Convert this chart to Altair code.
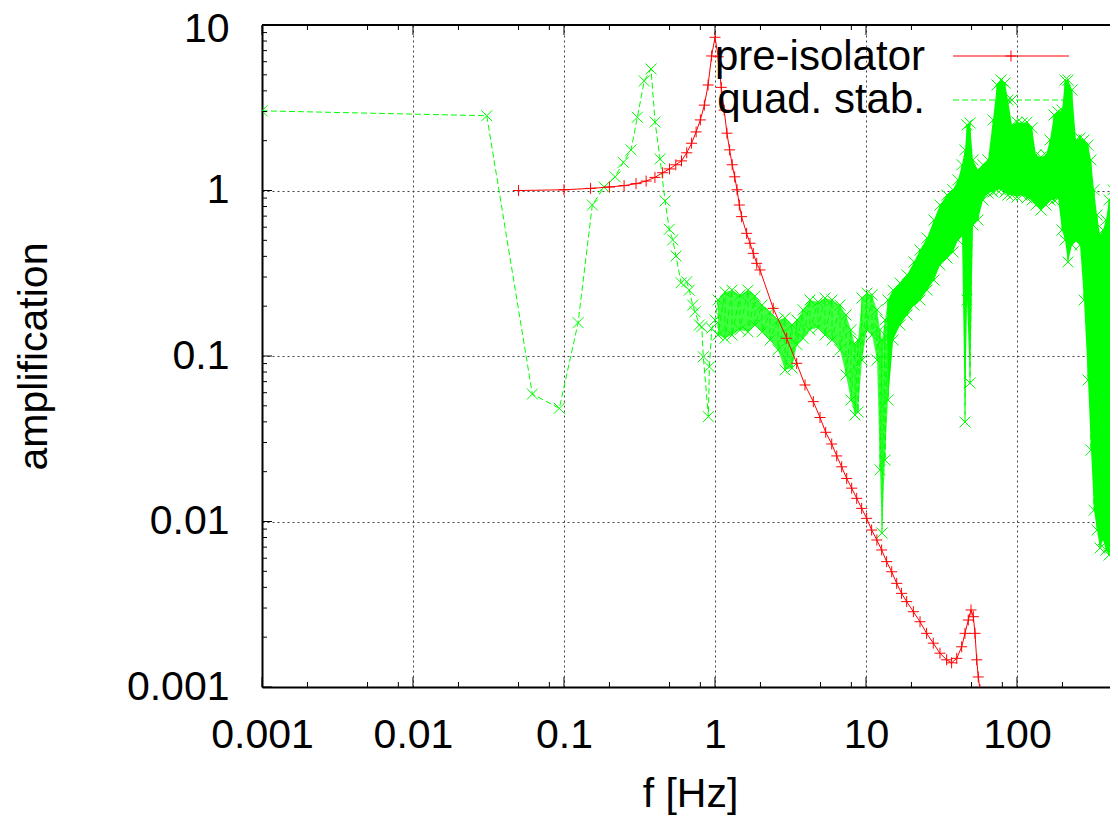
import altair as alt
import pandas as pd

# ---------------- data ----------------
# pre-isolator (red, solid line with + markers)
red_f = [0.05, 0.10, 0.15, 0.20, 0.25, 0.30, 0.35, 0.40, 0.45, 0.50, 0.55, 0.60, 0.65, 0.70, 0.75, 0.80, 0.85, 0.90, 0.95, 1.00,
         1.05, 1.10, 1.15, 1.20, 1.25, 1.30, 1.35, 1.40, 1.45, 1.50, 1.62, 1.705, 1.793, 1.889, 1.986,
         2.43, 2.985, 3.475, 3.945, 4.48, 4.96, 5.41, 5.93, 6.40, 6.90, 7.45, 8.04, 8.68, 9.36, 10.1, 10.9, 11.8, 12.7,
         13.7, 14.8, 15.97, 17.2, 18.6, 20.6, 22.8, 25.2, 27.9, 30.9, 34.2, 36.9, 39.9, 43.0, 45.25, 47.6, 49.6, 51.4,
         52.7, 54.1, 55.4, 56.9, 58.6]
red_a = [1.00, 1.01, 1.03, 1.05, 1.07, 1.10, 1.14, 1.20, 1.28, 1.35, 1.43, 1.51, 1.69, 1.93, 2.26, 2.67, 3.28, 4.34, 6.5, 8.43,
         6.43, 4.20, 3.06, 2.22, 1.76, 1.43, 1.21, 1.01, 0.817, 0.695, 0.551, 0.480, 0.417, 0.363, 0.331,
         0.194, 0.128, 0.0903, 0.0668, 0.053, 0.0425, 0.0346, 0.0294, 0.0249, 0.0214, 0.0182, 0.0159, 0.0138, 0.0120,
         0.01045, 0.00888, 0.00773, 0.00673, 0.00572, 0.00497, 0.00423, 0.00368, 0.00328, 0.00285, 0.00248, 0.00211,
         0.00184, 0.0016, 0.00146, 0.0014, 0.00149, 0.00175, 0.00211, 0.00254, 0.00292, 0.00266, 0.00211, 0.00146,
         0.00115, 0.00096, 0.00078]

# quad. stab. (green, dashed line with x markers) - sparse low-frequency part
green_f = [0.001, 0.0308, 0.0617, 0.0931, 0.124, 0.154, 0.184, 0.218, 0.247, 0.278, 0.306, 0.340, 0.377, 0.401,
           0.433, 0.467, 0.498, 0.525, 0.552, 0.596, 0.650, 0.676, 0.712, 0.738, 0.788, 0.817, 0.837, 0.904,
           0.918, 0.952, 1.0]
green_a = [3.03, 2.83, 0.0589, 0.0483, 0.159, 0.817, 1.05, 1.21, 1.48, 1.76, 2.77, 4.59, 5.42, 2.59,
           1.55, 0.865, 0.583, 0.503, 0.402, 0.277, 0.281, 0.25, 0.203, 0.185, 0.154, 0.150, 0.099, 0.043,
           0.086, 0.147, 0.165]

# quad. stab. - dense noisy part: upper / lower edge of the band
band_f = [1.047, 1.165, 1.296, 1.464, 1.654, 1.840, 2.048, 2.314, 2.614, 2.908,
          3.235, 3.49, 3.826, 4.257, 4.810, 5.35, 5.955, 6.73, 7.37, 7.956,
          8.46, 8.85, 9.41, 10.15, 10.96, 11.83, 12.38, 12.76, 13.36, 13.98,
          15.10, 16.80, 18.69, 20.79, 22.79, 25.35, 28.20, 30.91, 34.39, 37.69,
          40.68, 43.23, 45.25, 46.66, 48.84, 51.12, 55.16, 59.55, 64.27, 69.37,
          73.71, 78.34, 83.27, 87.16, 92.66, 100.0, 107.9, 116.5, 125.7, 133.6,
          144.2, 155.6, 165.4, 175.8, 186.9, 198.7, 208.0, 217.7, 231.3, 245.9,
          261.4, 277.8, 295.3, 309.1, 323.6, 338.8, 354.6, 371.2, 388.6, 406.8,
          432.4]
band_hi = [0.218, 0.244, 0.250, 0.234, 0.250, 0.230, 0.203, 0.184, 0.165, 0.170,
           0.154, 0.165, 0.190, 0.218, 0.212, 0.224, 0.218, 0.203, 0.177, 0.144,
           0.117, 0.125, 0.224, 0.240, 0.234, 0.190, 0.144, 0.125, 0.165, 0.218,
           0.250, 0.276, 0.309, 0.370, 0.437, 0.516, 0.663, 0.817, 0.939, 1.01,
           1.16, 1.43, 1.76, 2.49, 2.56, 1.53, 1.33, 1.43, 1.53, 2.67,
           4.34, 4.65, 4.46, 3.52, 2.49, 2.59, 2.56, 2.59, 2.39, 1.64,
           1.59, 1.64, 2.02, 2.86, 2.98, 3.06, 4.65, 4.65, 4.05, 2.02,
           2.08, 2.02, 1.88, 1.53, 1.01, 0.711, 0.538, 0.577, 0.663, 0.876,
           1.01]
band_lo = [0.134, 0.128, 0.134, 0.144, 0.140, 0.154, 0.140, 0.125, 0.109, 0.0823,
           0.0846, 0.117, 0.128, 0.144, 0.148, 0.134, 0.125, 0.109, 0.0768, 0.0542,
           0.0440, 0.0459, 0.0946, 0.144, 0.134, 0.0946, 0.0205, 0.00852, 0.0235, 0.0542,
           0.125, 0.154, 0.177, 0.203, 0.218, 0.250, 0.288, 0.355, 0.391, 0.425,
           0.502, 0.538, 0.0399, 0.218, 0.0687, 0.619, 0.663, 0.876, 0.966, 0.979,
           1.01, 1.01, 0.979, 0.939, 0.939, 0.913, 0.939, 0.901, 0.876, 0.817,
           0.762, 0.817, 0.876, 0.876, 0.901, 0.577, 0.502, 0.370, 0.469, 0.502,
           0.469, 0.218, 0.0716, 0.0270, 0.0117, 0.00888, 0.00692, 0.00773, 0.00673, 0.00627,
           0.00773]

x_major = [0.001, 0.01, 0.1, 1, 10, 100]
x_minor = [0.002, 0.005, 0.008, 0.02, 0.05, 0.08, 0.2, 0.5, 0.8, 2, 5, 8, 20, 50, 80, 200]
y_major = [0.001, 0.01, 0.1, 1, 10]
y_minor = [m * d for d in [0.001, 0.01, 0.1, 1] for m in [2, 3, 4, 5, 6, 7, 8, 9]]

labels = ["pre-isolator", "quad. stab."]

# ---------------- tables ----------------
red_df = pd.DataFrame({"f": red_f, "a": red_a})
g_f, g_a = list(green_f), list(green_a)
for f, h, l in zip(band_f, band_hi, band_lo):
    g_f += [f, f]
    g_a += [h, l]
green_df = pd.DataFrame({"f": g_f, "a": g_a, "i": list(range(len(g_f)))})
band_df = pd.DataFrame({"f": band_f, "hi": band_hi, "lo": band_lo})
one = pd.DataFrame({"k": [0]})

W, H = 848, 662
RED, GREEN = "#ff0000", "#00ff00"
FONT = "Liberation Sans"
XSHAPE = "M-1,-1L1,1M-1,1L1,-1"
PSHAPE = "M-1,0L1,0M0,-1L0,1"

xs = alt.Scale(type="log", domain=[0.001, 413], nice=False)
ys = alt.Scale(type="log", domain=[0.001, 10], nice=False)

x_axis = alt.Axis(values=x_major, format="~g", title="f [Hz]", grid=True, gridDash=[2, 3],
                  gridColor="#444444", gridWidth=1, ticks=False, tickSize=0, labelPadding=28,
                  labelFontSize=41, labelFont=FONT, labelColor="black", labelFlush=False,
                  labelOverlap=False, domainColor="black", domainWidth=2,
                  titleFont=FONT, titleFontSize=41, titleFontWeight="normal", titleColor="black",
                  titleX=428, titleY=119, titleBaseline="alphabetic")
y_axis = alt.Axis(values=y_major, format="~g", title="amplification", grid=True, gridDash=[2, 3],
                  gridColor="#444444", gridWidth=1, ticks=False, tickSize=0, labelPadding=33,
                  labelFontSize=41, labelFont=FONT, labelColor="black", labelFlush=False,
                  labelOverlap=False, labelBaseline="middle", domainColor="black", domainWidth=2,
                  labelOffset={"condition": {"test": "datum.value >= 10", "value": 4}, "value": 0},
                  titleFont=FONT, titleFontSize=41, titleFontWeight="normal", titleColor="black",
                  titleX=-216, titleY=331, titleBaseline="alphabetic")


def X(field):
    return alt.X(field, scale=xs, axis=x_axis)


def Y(field):
    return alt.Y(field, scale=ys, axis=y_axis)


# ---------------- ticks (inward, gnuplot style) ----------------
def xticks(vals, length):
    d = pd.DataFrame({"v": vals})
    bot = alt.Chart(d).mark_rule(color="black", strokeWidth=1).encode(
        x=X("v:Q"), y=alt.value(H), y2=alt.value(H - length))
    top = alt.Chart(d).mark_rule(color="black", strokeWidth=1).encode(
        x=X("v:Q"), y=alt.value(0), y2=alt.value(length))
    return [bot, top]


def yticks(vals, length):
    d = pd.DataFrame({"v": vals})
    return alt.Chart(d).mark_rule(color="black", strokeWidth=1).encode(
        y=Y("v:Q"), x=alt.value(0), x2=alt.value(length))


top_border = alt.Chart(one).mark_rule(color="black", strokeWidth=2).encode(
    x=alt.value(0), x2=alt.value(W), y=alt.value(0))

# ---------------- legend (gnuplot key) ----------------
leg_text1 = alt.Chart(one).mark_text(text=labels[0], align="right", baseline="alphabetic",
                                     font=FONT, fontSize=42, color="black").encode(
    x=alt.value(663), y=alt.value(45))
leg_text2 = alt.Chart(one).mark_text(text=labels[1], align="right", baseline="alphabetic",
                                     font=FONT, fontSize=42, color="black").encode(
    x=alt.value(663), y=alt.value(88))
leg_red_line = alt.Chart(one).mark_rule(color=RED, strokeWidth=1).encode(
    x=alt.value(691), x2=alt.value(807), y=alt.value(31))
leg_red_pt = alt.Chart(one).mark_point(shape=PSHAPE, filled=False, size=121, color=RED,
                                       strokeWidth=1, opacity=1).encode(x=alt.value(749), y=alt.value(31))
leg_green_line = alt.Chart(one).mark_rule(color=GREEN, strokeWidth=1, strokeDash=[6, 3]).encode(
    x=alt.value(691), x2=alt.value(807), y=alt.value(75))
leg_green_pt = alt.Chart(one).mark_point(shape=XSHAPE, filled=False, size=121, color=GREEN,
                                         strokeWidth=1, opacity=1).encode(x=alt.value(750), y=alt.value(75))

# ---------------- data layers ----------------
band_light = alt.Chart(band_df).transform_filter(alt.datum.f <= 15.1).mark_area(
    color=GREEN, opacity=0.75, clip=True).encode(x=X("f:Q"), y=Y("hi:Q"), y2="lo:Q")
band_solid = alt.Chart(band_df).transform_filter(alt.datum.f >= 13.98).mark_area(
    color=GREEN, opacity=1, clip=True).encode(x=X("f:Q"), y=Y("hi:Q"), y2="lo:Q")

green_line = alt.Chart(green_df).mark_line(color=GREEN, strokeWidth=1, strokeDash=[6, 3], clip=True).encode(
    x=X("f:Q"), y=Y("a:Q"), order="i:Q")
green_pts = alt.Chart(green_df).mark_point(shape=XSHAPE, filled=False, size=121, color=GREEN,
                                           strokeWidth=1, opacity=1, clip=True).encode(
    x=X("f:Q"), y=Y("a:Q"))

red_line = alt.Chart(red_df).mark_line(color=RED, strokeWidth=1, clip=True).encode(
    x=X("f:Q"), y=Y("a:Q"), order="f:Q")
red_pts = alt.Chart(red_df).mark_point(shape=PSHAPE, filled=False, size=121, color=RED,
                                       strokeWidth=1, opacity=1, clip=True).encode(
    x=X("f:Q"), y=Y("a:Q"))

layers = [band_light, band_solid, green_line, green_pts, red_line, red_pts,
          leg_text1, leg_text2, leg_red_line, leg_red_pt, leg_green_line, leg_green_pt]
layers += xticks(x_major, 10) + xticks(x_minor, 5) + [yticks(y_major, 10), yticks(y_minor, 5), top_border]

chart = alt.layer(*layers).properties(
    width=W, height=H,
    autosize=alt.AutoSizeParams(type="none"),
    padding={"left": 254, "top": 17, "right": 0, "bottom": 128},
    background="white",
).configure_view(stroke=None)

chart.save("out.html", embed_options={"renderer": "svg", "actions": False})
